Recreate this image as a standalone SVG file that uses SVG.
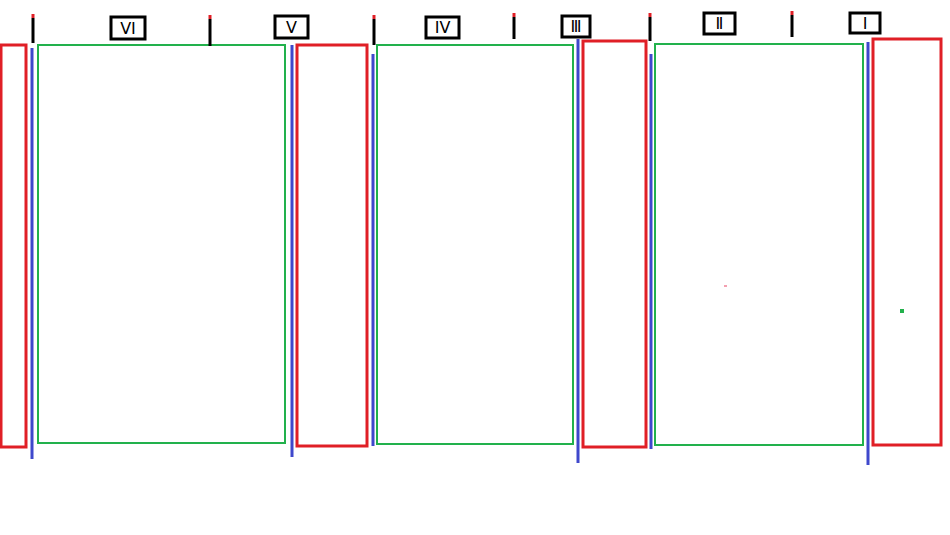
<svg xmlns="http://www.w3.org/2000/svg" width="950" height="535" viewBox="0 0 950 535">
<style>
.red{fill:none;stroke:#e01f26;stroke-width:3}
.blue{stroke:#3f48cc;stroke-width:3;fill:none}
.green{fill:none;stroke:#22b14c;stroke-width:2}
.tick{stroke:#000;stroke-width:3}
.tip{stroke:#e01f26;stroke-width:3}
.lbl{fill:#fff;stroke:#000;stroke-width:3}
.t{font-family:"DejaVu Sans","Liberation Sans",sans-serif;font-size:16px;fill:#000;text-anchor:middle;dominant-baseline:central}
</style>
<rect width="950" height="535" fill="#fff"/>
<g id="red-panels">
<rect id="r1" class="red" x="1" y="45" width="25" height="402"/>
<rect id="r2" class="red" x="297" y="45" width="70" height="401"/>
<rect id="r3" class="red" x="583" y="41" width="63" height="406"/>
<rect id="r4" class="red" x="873" y="39" width="68" height="406"/>
</g>
<g id="green-panels">
<rect id="g1" class="green" x="38" y="45" width="247" height="398"/>
<rect id="g2" class="green" x="377" y="45" width="196" height="399"/>
<rect id="g3" class="green" x="655" y="44" width="208" height="401"/>
</g>
<g id="blue-lines">
<line class="blue" x1="32" y1="48" x2="32" y2="459"/>
<line class="blue" x1="292" y1="45" x2="292" y2="457"/>
<line class="blue" x1="373" y1="54" x2="373" y2="446"/>
<line class="blue" x1="578" y1="39" x2="578" y2="463"/>
<line class="blue" x1="651" y1="54" x2="651" y2="449"/>
<line class="blue" x1="868" y1="42" x2="868" y2="465"/>
</g>
<g id="ticks">
<line class="tick" x1="33" y1="18" x2="33" y2="43"/><line class="tip" x1="33" y1="14" x2="33" y2="18"/>
<line class="tick" x1="210" y1="19" x2="210" y2="46"/><line class="tip" x1="210" y1="15" x2="210" y2="19"/>
<line class="tick" x1="374" y1="19" x2="374" y2="45"/><line class="tip" x1="374" y1="15" x2="374" y2="19"/>
<line class="tick" x1="514" y1="17" x2="514" y2="39"/><line class="tip" x1="514" y1="13" x2="514" y2="17"/>
<line class="tick" x1="650" y1="17" x2="650" y2="41"/><line class="tip" x1="650" y1="13" x2="650" y2="17"/>
<line class="tick" x1="792" y1="15" x2="792" y2="37"/><line class="tip" x1="792" y1="11" x2="792" y2="15"/>
</g>
<g id="label-VI"><rect class="lbl" x="111" y="17" width="34" height="22"/><text class="t" x="128" y="28.5">VI</text></g>
<g id="label-V"><rect class="lbl" x="275" y="16" width="33" height="22"/><text class="t" x="291.5" y="27.5">V</text></g>
<g id="label-IV"><rect class="lbl" x="426" y="17" width="33" height="21"/><text class="t" x="442.5" y="27.5">IV</text></g>
<g id="label-III"><rect class="lbl" x="562" y="16" width="28" height="21"/><text class="t" x="576" y="26.5">Ⅲ</text></g>
<g id="label-II"><rect class="lbl" x="704" y="13" width="31" height="21"/><text class="t" x="719.5" y="23.5">Ⅱ</text></g>
<g id="label-I"><rect class="lbl" x="850" y="13" width="30" height="20"/><text class="t" x="865" y="23">I</text></g>
<rect x="724" y="285" width="3" height="2" fill="#f4a0b0"/>
<rect x="900" y="309" width="4" height="4" fill="#22b14c"/>
</svg>
